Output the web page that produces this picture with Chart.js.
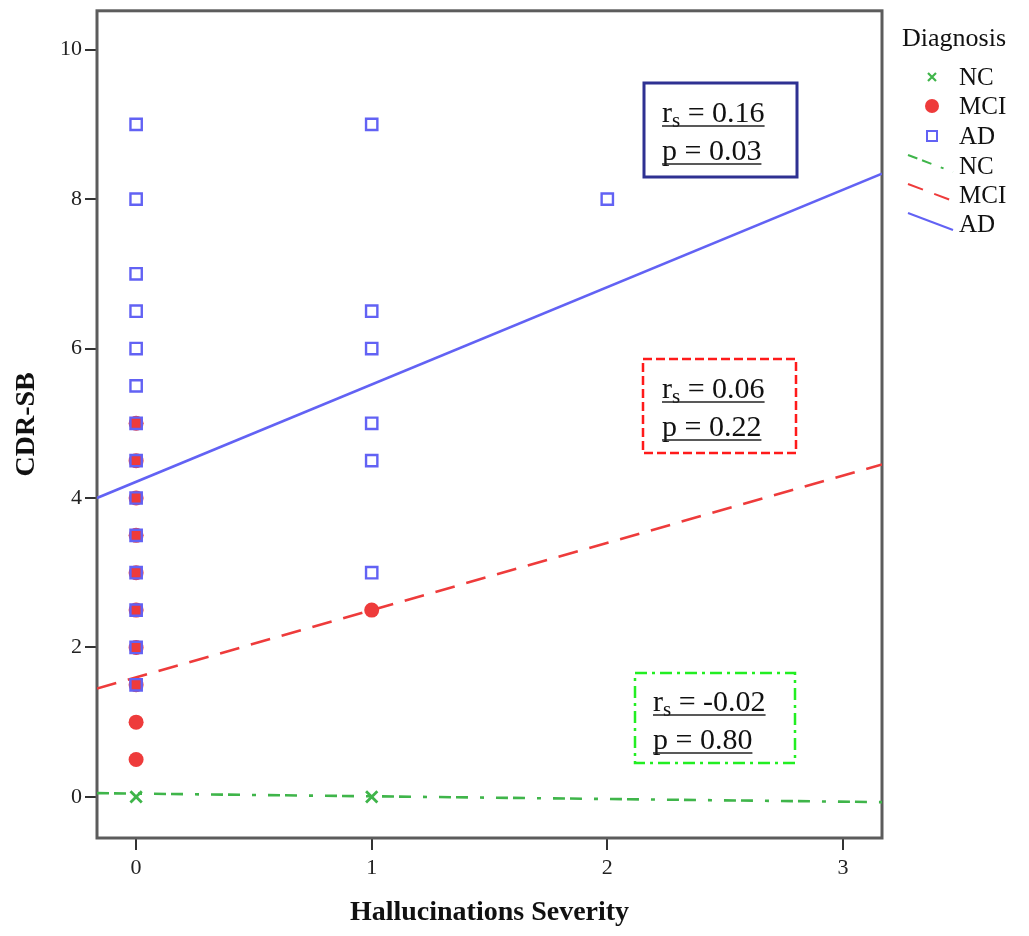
<!DOCTYPE html>
<html>
<head>
<meta charset="utf-8">
<script src="https://cdn.jsdelivr.net/npm/chart.js@4.4.1/dist/chart.umd.min.js"></script>
<style>
  html, body { margin: 0; background: #fff; }
  #wrap { width: 1029px; height: 936px; }
</style>
</head>
<body>
<div id="wrap"><canvas id="chart" width="1029" height="936"></canvas></div>
<script>
// Scatter of CDR-SB vs hallucination severity, by diagnosis group

const xTicks = [0, 1, 2, 3];
const yTicks = [0, 2, 4, 6, 8, 10];

// observed points
const ncX = [0, 1];
const ncY = [0, 0];
const mciX = [0, 0, 0, 0, 0, 0, 0, 0, 0, 0, 1];
const mciY = [5, 4.5, 4, 3.5, 3, 2.5, 2, 1.5, 1, 0.5, 2.5];
const adX = [0, 0, 0, 0, 0, 0, 0, 0, 0, 0, 0, 0, 0, 0, 1, 1, 1, 1, 1, 1, 2];
const adY = [9, 8, 7, 6.5, 6, 5.5, 5, 4.5, 4, 3.5, 3, 2.5, 2, 1.5, 9, 6.5, 6, 5, 4.5, 3, 8];

// fit lines (end points at the axis edges)
const fitX = [-0.166, 3.166];
const ncFitY = [0.05, -0.07];
const mciFitY = [1.45, 4.45];
const adFitY = [4.0, 8.34];

// correlation boxes: AD, MCI, NC
const statR = ['0.16', '0.06', '-0.02'];
const statP = ['0.03', '0.22', '0.80'];

const legendLabels = ['NC', 'MCI', 'AD'];

const SERIF = '"Liberation Serif", "Times New Roman", serif';
const GREEN = '#3fb54a';
const RED = '#ee3b3b';
const BLUE = '#6262f4';
const NC_DASH = [12, 5, 12, 12, 4, 12];
const MCI_DASH = [20, 12];

function pts(xs, ys) {
  return xs.map((x, i) => ({ x: x, y: ys[i] }));
}

function underlinedStat(ctx, x, base, label, value, sub) {
  ctx.font = '30px ' + SERIF;
  ctx.fillStyle = '#111';
  ctx.textAlign = 'left';
  ctx.textBaseline = 'alphabetic';
  let cx = x;
  ctx.fillText(label, cx, base);
  cx += ctx.measureText(label).width;
  if (sub) {
    ctx.font = '21px ' + SERIF;
    ctx.fillText(sub, cx, base + 5);
    cx += ctx.measureText(sub).width;
    ctx.font = '30px ' + SERIF;
  }
  const rest = ' = ' + value;
  ctx.fillText(rest, cx, base);
  cx += ctx.measureText(rest).width;
  ctx.strokeStyle = '#222';
  ctx.lineWidth = 1.6;
  ctx.setLineDash([]);
  ctx.beginPath();
  ctx.moveTo(x, base + 4);
  ctx.lineTo(cx, base + 4);
  ctx.stroke();
}

function statBox(ctx, box, r, p) {
  ctx.save();
  ctx.strokeStyle = box.color;
  ctx.lineWidth = box.lw;
  ctx.setLineDash(box.dash);
  ctx.strokeRect(box.x, box.y, box.w, box.h);
  ctx.restore();
  ctx.save();
  underlinedStat(ctx, box.tx, box.b1, 'r', r, 's');
  underlinedStat(ctx, box.tx, box.b2, 'p', p, '');
  ctx.restore();
}

const decor = {
  id: 'decor',
  beforeDatasetsDraw(chart) {
    const { ctx, chartArea: a } = chart;
    ctx.save();
    ctx.strokeStyle = '#5c5c5c';
    ctx.lineWidth = 3;
    ctx.strokeRect(a.left, a.top, a.right - a.left, a.bottom - a.top);
    ctx.restore();
  },
  afterDraw(chart) {
    const { ctx, chartArea: a } = chart;
    ctx.save();

    // axis titles
    ctx.fillStyle = '#111';
    ctx.font = 'bold 28px ' + SERIF;
    ctx.textAlign = 'center';
    ctx.textBaseline = 'middle';
    ctx.fillText('Hallucinations Severity', (a.left + a.right) / 2, 913);
    ctx.save();
    ctx.translate(27, (a.top + a.bottom) / 2);
    ctx.rotate(-Math.PI / 2);
    ctx.fillText('CDR-SB', 0, 0);
    ctx.restore();

    // legend
    ctx.textAlign = 'left';
    ctx.font = '26px ' + SERIF;
    ctx.fillText('Diagnosis', 902, 39);
    ctx.font = '25px ' + SERIF;
    const rows = [77, 106, 136, 166, 195, 224];
    for (let i = 0; i < 6; i++) {
      ctx.fillStyle = '#111';
      ctx.fillText(legendLabels[i % 3], 959, rows[i] + 1);
    }
    // markers
    ctx.strokeStyle = GREEN;
    ctx.lineWidth = 2.2;
    ctx.beginPath();
    ctx.moveTo(928, rows[0] - 4); ctx.lineTo(936, rows[0] + 4);
    ctx.moveTo(936, rows[0] - 4); ctx.lineTo(928, rows[0] + 4);
    ctx.stroke();
    ctx.fillStyle = RED;
    ctx.beginPath();
    ctx.arc(932, rows[1], 7, 0, Math.PI * 2);
    ctx.fill();
    ctx.strokeStyle = BLUE;
    ctx.lineWidth = 2;
    ctx.strokeRect(927, rows[2] - 5, 10, 10);
    // line keys
    const keys = [[GREEN, [10, 5, 10, 10, 3, 10]], [RED, [16, 12]], [BLUE, []]];
    keys.forEach((k, i) => {
      const y = rows[3 + i];
      ctx.strokeStyle = k[0];
      ctx.lineWidth = 2;
      ctx.setLineDash(k[1]);
      ctx.beginPath();
      ctx.moveTo(908, y - 11);
      ctx.lineTo(953, y + 6);
      ctx.stroke();
    });
    ctx.setLineDash([]);
    ctx.restore();

    // correlation boxes
    statBox(ctx, { x: 644, y: 83, w: 153, h: 94, color: '#2e3192', lw: 3, dash: [], tx: 662, b1: 122, b2: 160 }, statR[0], statP[0]);
    statBox(ctx, { x: 643, y: 359, w: 153, h: 94, color: '#ff1a1a', lw: 2.5, dash: [9, 4], tx: 662, b1: 398, b2: 436 }, statR[1], statP[1]);
    statBox(ctx, { x: 635, y: 673, w: 160, h: 90, color: '#22ee22', lw: 2.5, dash: [12, 5, 3, 5], tx: 653, b1: 711, b2: 749 }, statR[2], statP[2]);
  }
};

const fitLine = (ys, color, dash, order) => ({
  data: pts(fitX, ys),
  showLine: true,
  borderColor: color,
  borderWidth: 2.6,
  borderDash: dash,
  pointRadius: 0,
  pointHoverRadius: 0,
  order: order
});

new Chart(document.getElementById('chart').getContext('2d'), {
  type: 'scatter',
  data: {
    datasets: [
      fitLine(ncFitY, GREEN, NC_DASH, 6),
      fitLine(mciFitY, RED, MCI_DASH, 5),
      fitLine(adFitY, BLUE, [], 4),
      {
        data: pts(ncX, ncY),
        pointStyle: 'crossRot',
        pointRadius: 8,
        borderColor: GREEN,
        borderWidth: 2.8,
        order: 3
      },
      {
        data: pts(mciX, mciY),
        pointStyle: 'circle',
        pointRadius: 7.5,
        backgroundColor: RED,
        borderColor: RED,
        borderWidth: 0,
        order: 2
      },
      {
        data: pts(adX, adY),
        pointStyle: 'rect',
        pointRadius: 8,
        backgroundColor: 'rgba(0,0,0,0)',
        borderColor: BLUE,
        borderWidth: 2.4,
        order: 1
      }
    ]
  },
  options: {
    responsive: false,
    animation: false,
    devicePixelRatio: 1,
    layout: { padding: { left: 0, top: 8, right: 147, bottom: 0 } },
    plugins: { legend: { display: false }, tooltip: { enabled: false } },
    scales: {
      x: {
        type: 'linear',
        min: -0.166,
        max: 3.166,
        afterBuildTicks: s => { s.ticks = xTicks.map(v => ({ value: v })); },
        afterFit: s => { s.height = 98; s.paddingLeft = 0; s.paddingRight = 0; },
        border: { display: false },
        grid: { drawOnChartArea: false, drawTicks: true, tickLength: 12, color: '#333', lineWidth: 2 },
        ticks: { font: { family: SERIF, size: 22 }, color: '#222', padding: 5, maxRotation: 0 }
      },
      y: {
        type: 'linear',
        min: -0.55,
        max: 10.52,
        afterBuildTicks: s => { s.ticks = yTicks.map(v => ({ value: v })); },
        afterFit: s => { s.width = 97; s.paddingTop = 0; s.paddingBottom = 0; },
        border: { display: false },
        grid: { drawOnChartArea: false, drawTicks: true, tickLength: 12, color: '#333', lineWidth: 2 },
        ticks: { font: { family: SERIF, size: 22 }, color: '#222', padding: 3 }
      }
    }
  },
  plugins: [decor]
});
</script>
</body>
</html>
